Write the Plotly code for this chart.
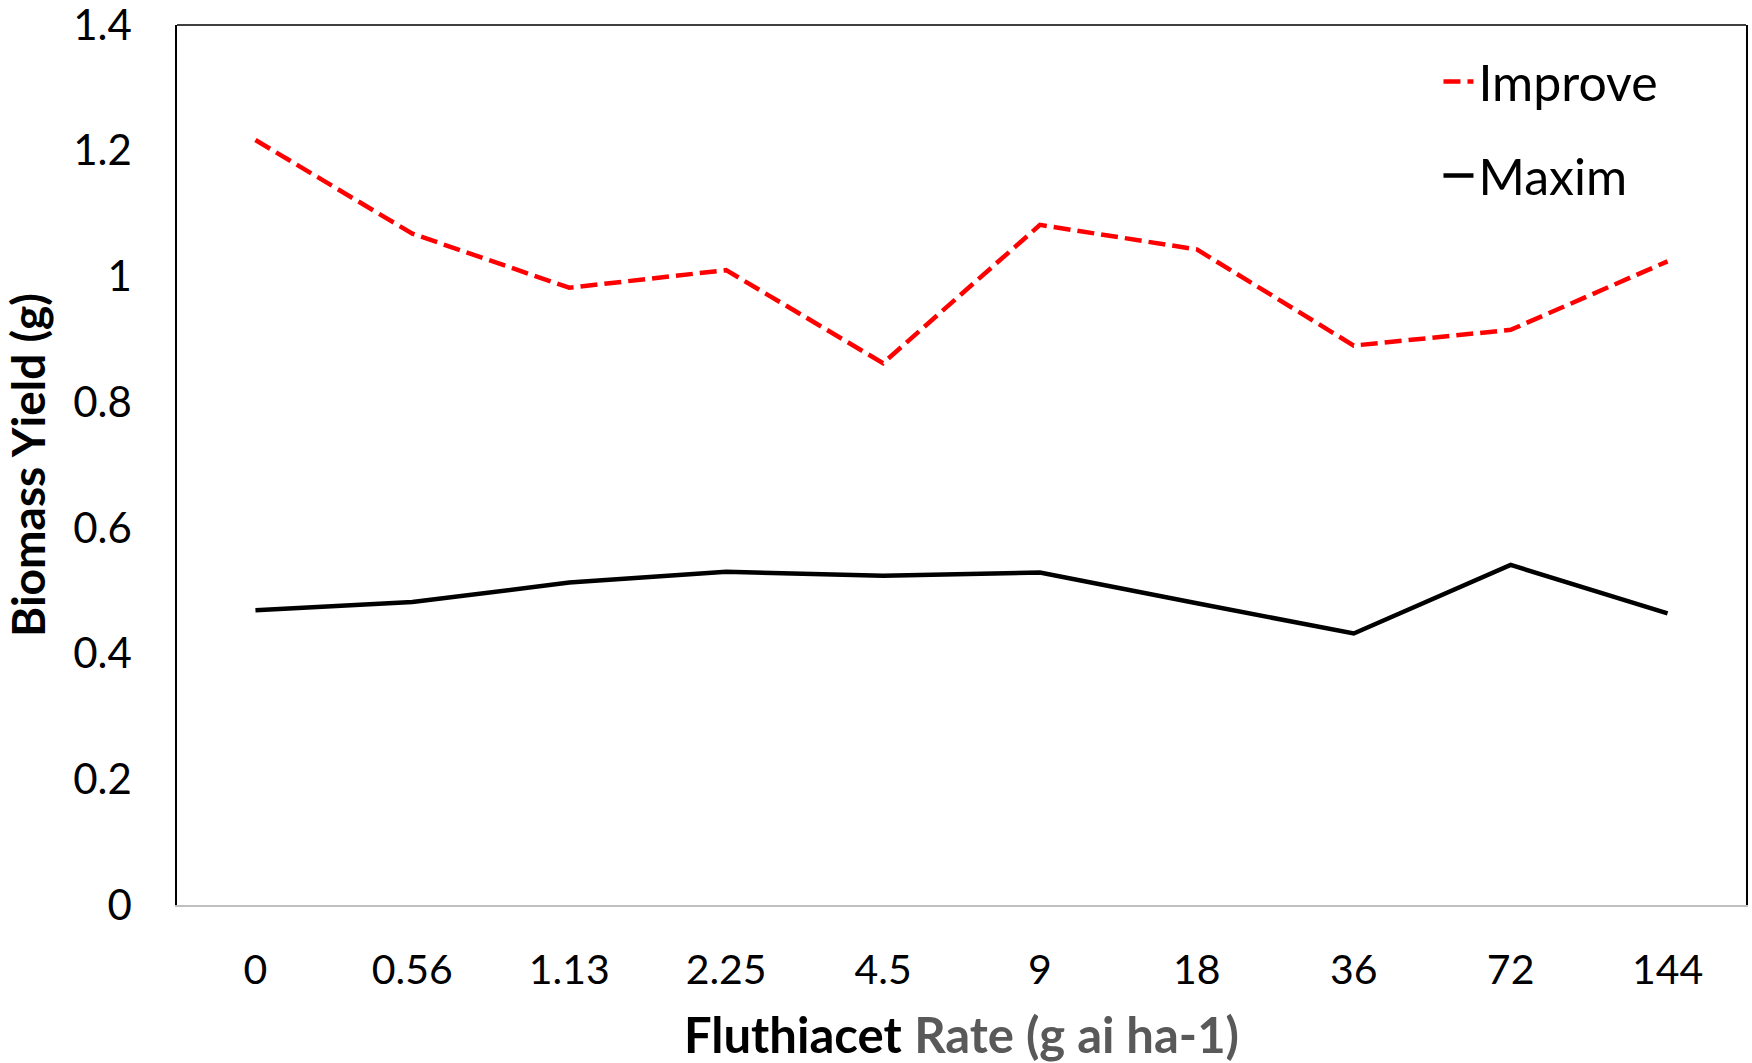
import plotly.graph_objects as go

rates = ["0", "0.56", "1.13", "2.25", "4.5", "9", "18", "36", "72", "144"]
improve = [1.217, 1.068, 0.982, 1.010, 0.862, 1.082, 1.043, 0.890, 0.915, 1.024]
maxim = [0.469, 0.482, 0.513, 0.530, 0.524, 0.529, 0.480, 0.432, 0.541, 0.464]

y_ticks = [0, 0.2, 0.4, 0.6, 0.8, 1.0, 1.2, 1.4]
y_tick_text = ["0", "0.2", "0.4", "0.6", "0.8", "1", "1.2", "1.4"]

FONT = "Lato, 'Open Sans', sans-serif"

fig = go.Figure()
fig.add_trace(go.Scatter(
    x=rates, y=improve, name="Improve", mode="lines",
    line=dict(color="#FF0000", width=4.5, dash="17px,7px"),
    legendgroup="a",
))
fig.add_trace(go.Scatter(
    x=rates, y=maxim, name="Maxim", mode="lines",
    line=dict(color="#000000", width=4.5),
    legendgroup="b",
))

fig.update_layout(
    width=1752, height=1063,
    margin=dict(l=177, r=6, t=25, b=158),
    paper_bgcolor="white", plot_bgcolor="white",
    font=dict(family=FONT, size=41, color="#000000"),
    showlegend=True,
    legend=dict(
        x=0.804, y=0.98, xanchor="left", yanchor="top",
        bgcolor="rgba(0,0,0,0)", font=dict(size=50, family=FONT),
        traceorder="grouped", tracegroupgap=26,
    ),
    xaxis=dict(
        type="category", range=[-0.5, 9.5], automargin=False,
        showgrid=False, zeroline=False,
        showline=True, linecolor="#BFBFBF", linewidth=2,
        ticks="", ticklabelstandoff=28, ticklabeloverflow="allow",
        tickfont=dict(size=41, family=FONT),
        title=dict(
            text="<b>Fluthiacet</b> <b><span style='color:#595959'>Rate (g ai ha-1)</span></b>",
            font=dict(size=49, family=FONT), standoff=30,
        ),
    ),
    yaxis=dict(
        range=[0, 1.4], tickvals=y_ticks, ticktext=y_tick_text, automargin=False,
        showgrid=False, zeroline=False,
        showline=True, linecolor="#000000", linewidth=1.5, mirror=True,
        ticks="", ticklabelstandoff=35, ticklabeloverflow="allow",
        tickfont=dict(size=42, family=FONT),
        title=dict(text="<b>Biomass Yield (g)</b>", font=dict(size=46, family=FONT), standoff=22),
    ),
    shapes=[dict(type="line", xref="paper", yref="paper", x0=0, x1=1, y0=1, y1=1,
                 line=dict(color="#000000", width=1.5))],
)

fig.write_html("out.html")
